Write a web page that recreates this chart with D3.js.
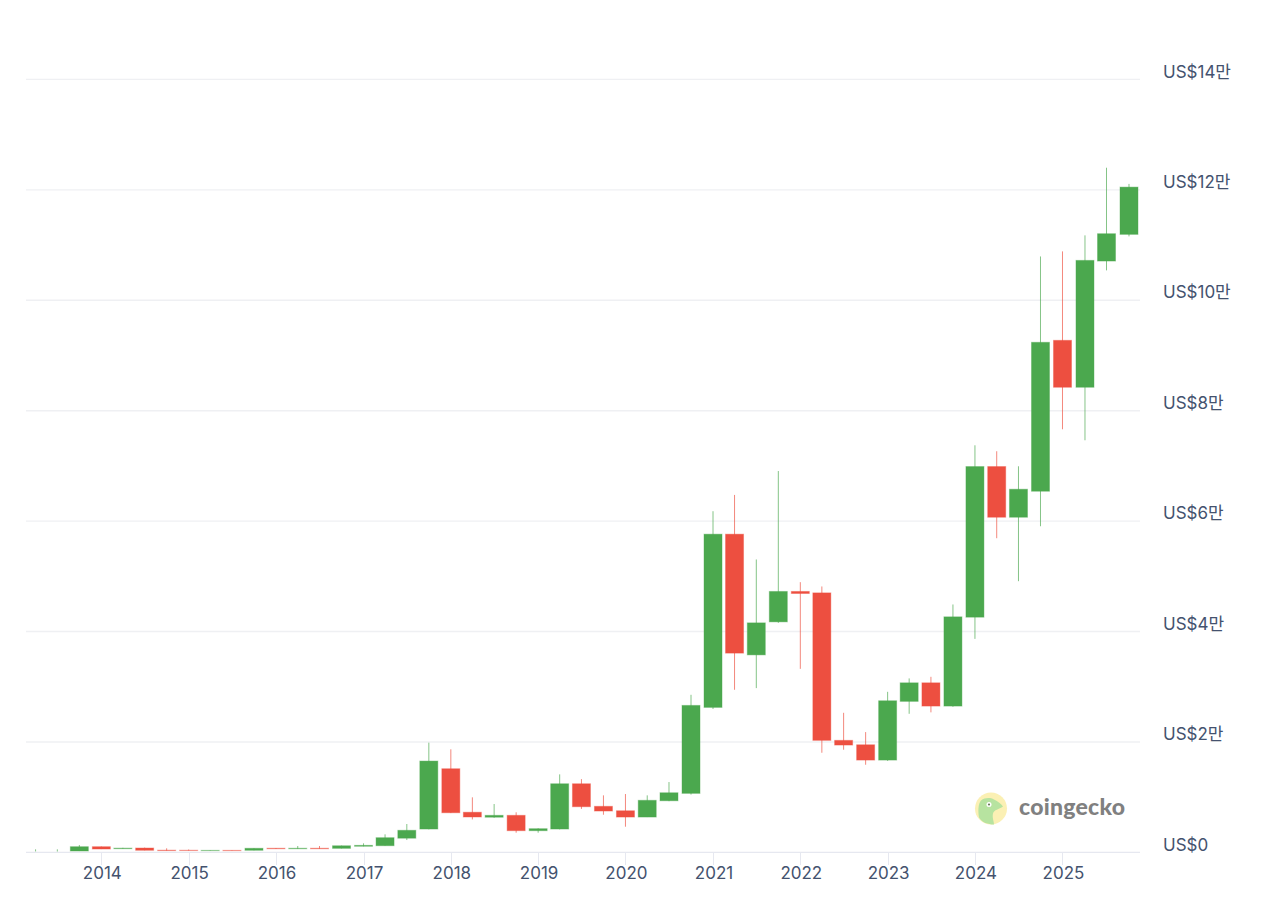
<!DOCTYPE html>
<html>
<head>
<meta charset="utf-8">
<script src="https://cdn.jsdelivr.net/npm/d3@7"></script>
<style>
  html, body { margin: 0; background: #fff; }
  text { font-family: Inter, "Noto Sans CJK KR", sans-serif; }
</style>
</head>
<body>
<svg id="chart" width="1280" height="905"></svg>
<script>
// Quarterly candles, values in USD
const quarters = [
  "2013-04-01", "2013-07-01", "2013-10-01",
  "2014-01-01", "2014-04-01", "2014-07-01", "2014-10-01",
  "2015-01-01", "2015-04-01", "2015-07-01", "2015-10-01",
  "2016-01-01", "2016-04-01", "2016-07-01", "2016-10-01",
  "2017-01-01", "2017-04-01", "2017-07-01", "2017-10-01",
  "2018-01-01", "2018-04-01", "2018-07-01", "2018-10-01",
  "2019-01-01", "2019-04-01", "2019-07-01", "2019-10-01",
  "2020-01-01", "2020-04-01", "2020-07-01", "2020-10-01",
  "2021-01-01", "2021-04-01", "2021-07-01", "2021-10-01",
  "2022-01-01", "2022-04-01", "2022-07-01", "2022-10-01",
  "2023-01-01", "2023-04-01", "2023-07-01", "2023-10-01",
  "2024-01-01", "2024-04-01", "2024-07-01", "2024-10-01",
  "2025-01-01", "2025-04-05", "2025-07-04", "2025-10-06"
];
const opens = [
  130, 130, 180,
  960, 600, 720, 330,
  320, 240, 300, 310,
  680, 590, 680, 660,
  1040, 1140, 2500, 4160,
  15080, 7200, 6300, 6640,
  3860, 4160, 12360, 8270,
  7470, 6330, 9280, 10620,
  26190, 57560, 35700, 41680,
  47190, 46930, 20220, 19420,
  16650, 27280, 30640, 26430,
  42530, 69810, 60630, 65340,
  92670, 84170, 107030, 111860
];
const closes = [
  130, 130, 960,
  540, 700, 310, 250,
  260, 300, 240, 670,
  590, 680, 590, 1130,
  1200, 2590, 3930, 16470,
  7110, 6340, 6640, 3860,
  4220, 12360, 8200, 7420,
  6330, 9360, 10730, 26550,
  57560, 36020, 41500, 47190,
  46820, 20220, 19370, 16650,
  27390, 30640, 26430, 42590,
  69810, 60630, 65700, 92310,
  84170, 107150, 111980, 120420
];
const highs = [
  480, 480, 1270,
  1000, 760, 800, 670,
  450, 320, 320, 700,
  720, 1086, 1086, 1160,
  1570, 3200, 5070, 19800,
  18600, 9900, 8690, 7190,
  4300, 14060, 13200, 10260,
  10500, 10260, 12670, 28470,
  61720, 64670, 52980, 69000,
  48870, 48090, 25210, 21720,
  29010, 31440, 31730, 44830,
  73660, 72580, 69860, 107860,
  108780, 111680, 123930, 121000
];
const lows = [
  100, 90, 170,
  530, 590, 300, 240,
  250, 230, 230, 300,
  580, 580, 580, 650,
  1030, 1130, 2170, 4100,
  7050, 5900, 6200, 3490,
  3490, 4100, 7800, 6750,
  4580, 6330, 9200, 10400,
  25900, 29380, 29680, 41500,
  33170, 17970, 18520, 15800,
  16500, 25030, 25290, 26300,
  38600, 56830, 49050, 59000,
  76560, 74570, 105340, 111500
];
const yearTicks = [2014, 2015, 2016, 2017, 2018, 2019, 2020, 2021, 2022, 2023, 2024, 2025];
const priceTicks = [0, 20000, 40000, 60000, 80000, 100000, 120000, 140000];
const priceLabels = ["US$0", "US$2만", "US$4만", "US$6만", "US$8만", "US$10만", "US$12만", "US$14만"];

const svg = d3.select("#chart");
const plot = { left: 26, right: 1140, top: 79, bottom: 852 };
const bandWidth = 18;
const green = "#4ba84e";
const red = "#ed4f40";
const labelColor = "#44526e";

const x = d3.scaleUtc()
  .domain([new Date(Date.UTC(2013, 1, 20)), new Date(Date.UTC(2025, 10, 21))])
  .range([plot.left, plot.right]);
const y = d3.scaleLinear()
  .domain([0, 140000])
  .range([plot.bottom, plot.top]);

const candles = quarters.map((q, i) => ({
  date: new Date(q + "T00:00:00Z"),
  open: opens[i], close: closes[i], high: highs[i], low: lows[i]
}));

// Gridlines
svg.append("g").selectAll("line.grid").data(priceTicks)
  .join("line")
  .attr("class", "grid")
  .attr("x1", plot.left)
  .attr("x2", plot.right)
  .attr("y1", d => y(d) + 0.4)
  .attr("y2", d => y(d) + 0.4)
  .attr("stroke", d => d === 0 ? "#e6e8f0" : "#eff0f3")
  .attr("stroke-width", 1.4);

// Y labels sit above the right end of each gridline
svg.append("g").selectAll("text.ylabel").data(priceTicks)
  .join("text")
  .attr("class", "ylabel")
  .attr("x", 1163)
  .attr("y", d => y(d) - 1.5)
  .attr("font-size", 17)
  .attr("fill", labelColor)
  .text((d, i) => priceLabels[i]);

// X ticks and labels
const yearDate = d => new Date(Date.UTC(d, 0, 1));
svg.append("g").selectAll("line.tick").data(yearTicks)
  .join("line")
  .attr("class", "tick")
  .attr("x1", d => Math.round(x(yearDate(d))) + 0.5)
  .attr("x2", d => Math.round(x(yearDate(d))) + 0.5)
  .attr("y1", plot.bottom)
  .attr("y2", plot.bottom + 13)
  .attr("stroke", "#e6e8f0");
svg.append("g").selectAll("text.xlabel").data(yearTicks)
  .join("text")
  .attr("class", "xlabel")
  .attr("x", d => x(yearDate(d)) + 1)
  .attr("y", 879)
  .attr("text-anchor", "middle")
  .attr("font-size", 17)
  .attr("fill", labelColor)
  .text(d => d);

// Wicks
svg.append("g").selectAll("line.wick").data(candles)
  .join("line")
  .attr("class", "wick")
  .attr("x1", d => x(d.date))
  .attr("x2", d => x(d.date))
  .attr("y1", d => y(d.high))
  .attr("y2", d => y(d.low))
  .attr("stroke", d => d.close >= d.open ? green : red)
  .attr("stroke-opacity", 0.68)
  .attr("stroke-width", 1);

// Bodies, the first candles are too small to show one
svg.append("g").selectAll("rect.body").data(candles.filter(d => d.open !== d.close))
  .join("rect")
  .attr("class", "body")
  .attr("x", d => x(d.date) - bandWidth / 2)
  .attr("width", bandWidth)
  .attr("y", d => y(Math.max(d.open, d.close)))
  .attr("height", d => Math.abs(y(d.open) - y(d.close)))
  .attr("fill", d => d.close >= d.open ? green : red)
  .attr("stroke", d => d.close >= d.open ? green : red)
  .attr("stroke-opacity", 0.4)
  .attr("stroke-width", 1);

// Logo
const logo = svg.append("g").attr("transform", "translate(991,808.5)");
logo.append("circle").attr("r", 16).attr("fill", "#fbf0b4");
logo.append("path")
  .attr("d", "M-12,9 C-13,2 -13,-4 -10,-8 C-6,-11 -1,-11 3,-9 C7,-7 10,-5 12,-2 C8,1 3,1 2,5 C1,9 3,13 3,16 C-3,16 -9,14 -12,9 Z")
  .attr("fill", "#b7e3a0");
logo.append("circle").attr("cx", -2).attr("cy", -4).attr("r", 2.5).attr("fill", "#fff");
logo.append("circle").attr("cx", -2).attr("cy", -4).attr("r", 1.1).attr("fill", "#6b7a5a");
svg.append("text")
  .attr("x", 1019)
  .attr("y", 815)
  .attr("font-size", 23)
  .attr("font-weight", 900)
  .attr("letter-spacing", 0.25)
  .attr("fill", "#808080")
  .style("font-family", "Lato, sans-serif")
  .text("coingecko");
</script>
</body>
</html>
